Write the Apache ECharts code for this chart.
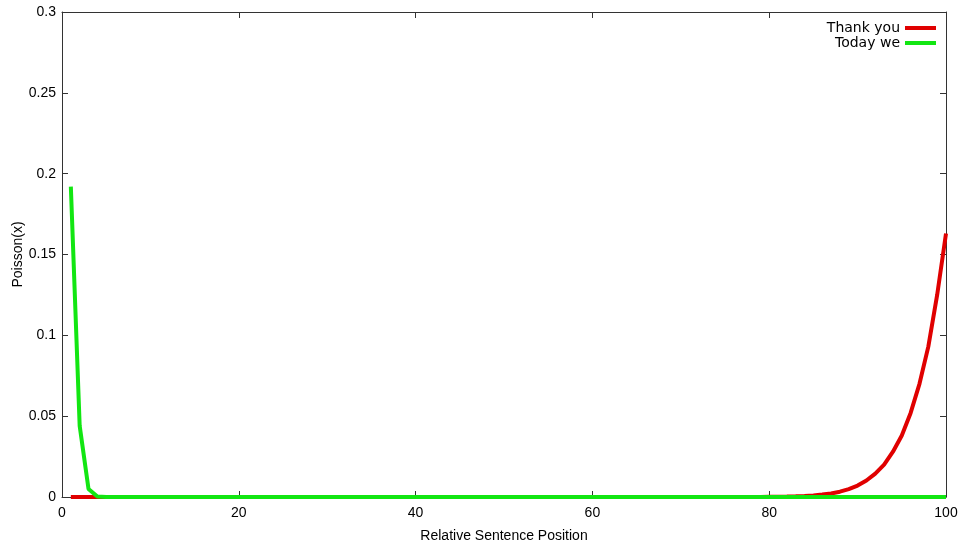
<!DOCTYPE html>
<html>
<head>
<meta charset="utf-8">
<script src="https://cdn.jsdelivr.net/npm/echarts@6/dist/echarts.min.js"></script>
<style>
  html, body { margin: 0; padding: 0; background: #fff; }
  #chart { width: 958px; height: 548px; }
</style>
</head>
<body>
<div id="chart"></div>
<script>
// positions 1..100
const positions = Array.from({ length: 100 }, (_, i) => i + 1);

// "Thank you": near zero until ~80, then rising to the end
const thankTail = [
  0.0001, 0.00015, 0.00025, 0.0004, 0.0006, 0.001, 0.0015, 0.0022, 0.0033, 0.0049,
  0.0071, 0.0102, 0.0145, 0.020, 0.028, 0.038, 0.052, 0.070, 0.093, 0.125, 0.163
]; // x = 80..100
const thankYou = positions.map((x) => (x < 80 ? 0 : thankTail[x - 80]));

// "Today we": sharp drop over the first few positions
const todayHead = [0.192, 0.044, 0.005, 0.0003]; // x = 1..4
const todayWe = positions.map((x) => (x <= 4 ? todayHead[x - 1] : 0));

const seriesNames = ["Thank you", "Today we"];
const seriesColors = ["#e00000", "#12e612"];

const myChart = echarts.init(document.getElementById("chart"));

const textFont = "Liberation Sans";

// mirrored frame axes (top / right), gnuplot style
const frameLine = { show: true, onZero: false, lineStyle: { color: "#333", width: 1 } };
const frameTick = { show: true, inside: true, length: 6, lineStyle: { color: "#333" } };

const option = {
  animation: false,
  backgroundColor: "#fff",
  grid: { left: 62, right: 12, top: 12, bottom: 51, outerBoundsMode: "none", containLabel: false },
  legend: {
    orient: "vertical",
    right: 17,
    top: 16,
    align: "right",
    itemWidth: 31,
    itemHeight: 4,
    itemGap: 1,
    icon: "rect",
    textStyle: { fontFamily: "DejaVu Sans", fontSize: 14, color: "#000" },
    data: seriesNames,
  },
  xAxis: [
    {
      type: "value",
      min: 0,
      max: 100,
      interval: 20,
      name: "Relative Sentence Position",
      nameLocation: "middle",
      nameGap: 32,
      nameMoveOverlap: false,
      nameTextStyle: { fontFamily: textFont, fontSize: 14, color: "#000" },
      axisLine: frameLine,
      axisTick: frameTick,
      axisLabel: { fontFamily: textFont, fontSize: 14, color: "#000", margin: 9 },
      splitLine: { show: false },
    },
    {
      type: "value",
      position: "top",
      min: 0,
      max: 100,
      interval: 20,
      axisLine: frameLine,
      axisTick: frameTick,
      axisLabel: { show: false },
      splitLine: { show: false },
    },
  ],
  yAxis: [
    {
      type: "value",
      min: 0,
      max: 0.3,
      interval: 0.05,
      name: "Poisson(x)",
      nameLocation: "middle",
      nameGap: 37,
      nameMoveOverlap: false,
      nameTextStyle: { fontFamily: textFont, fontSize: 14, color: "#000" },
      axisLine: frameLine,
      axisTick: frameTick,
      axisLabel: { fontFamily: textFont, fontSize: 14, color: "#000", margin: 6 },
      splitLine: { show: false },
    },
    {
      type: "value",
      position: "right",
      min: 0,
      max: 0.3,
      interval: 0.05,
      axisLine: frameLine,
      axisTick: frameTick,
      axisLabel: { show: false },
      splitLine: { show: false },
    },
  ],
  series: [
    {
      name: seriesNames[0],
      type: "line",
      showSymbol: false,
      color: seriesColors[0],
      lineStyle: { width: 4, color: seriesColors[0] },
      data: positions.map((x, i) => [x, thankYou[i]]),
    },
    {
      name: seriesNames[1],
      type: "line",
      showSymbol: false,
      color: seriesColors[1],
      lineStyle: { width: 4, color: seriesColors[1] },
      data: positions.map((x, i) => [x, todayWe[i]]),
    },
  ],
};

myChart.setOption(option);
</script>
</body>
</html>
